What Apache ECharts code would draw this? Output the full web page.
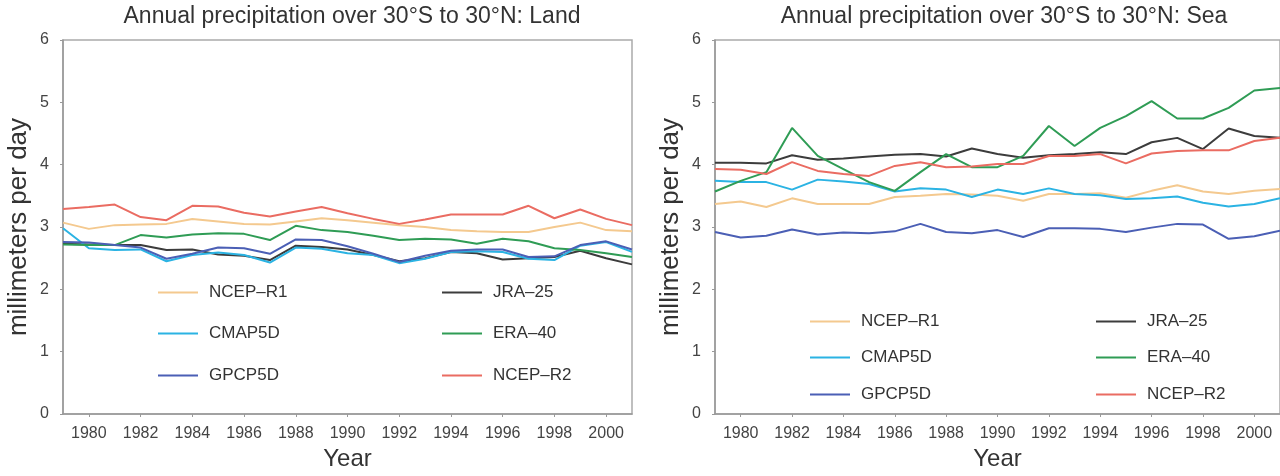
<!DOCTYPE html>
<html>
<head>
<meta charset="utf-8">
<title>Annual precipitation over 30°S to 30°N</title>
<script src="https://cdn.jsdelivr.net/npm/echarts@6/dist/echarts.min.js"></script>
<style>
  html, body { margin: 0; padding: 0; background: #fff; }
  #chart { width: 1280px; height: 476px; }
</style>
</head>
<body>
<div id="chart"></div>
<script>
// years on the x axis
const years = ['1979', '1980', '1981', '1982', '1983', '1984', '1985', '1986', '1987', '1988', '1989', '1990',
  '1991', '1992', '1993', '1994', '1995', '1996', '1997', '1998', '1999', '2000', '2001']
const yTicks = [0, 1, 2, 3, 4, 5, 6]

// Land, mm/day
const landNcepR1 = [3.07, 2.97, 3.03, 3.04, 3.05, 3.13, 3.09, 3.05, 3.04, 3.09, 3.14, 3.11, 3.07, 3.03, 3.0, 2.95, 2.93, 2.92, 2.92, 3.0, 3.07, 2.95, 2.93]
const landJra25 = [2.73, 2.72, 2.71, 2.71, 2.63, 2.64, 2.56, 2.54, 2.47, 2.7, 2.68, 2.64, 2.55, 2.45, 2.5, 2.6, 2.58, 2.48, 2.5, 2.52, 2.62, 2.5, 2.4]
const landCmap5d = [2.98, 2.66, 2.63, 2.64, 2.45, 2.55, 2.59, 2.55, 2.43, 2.67, 2.65, 2.58, 2.55, 2.42, 2.49, 2.6, 2.61, 2.6, 2.49, 2.47, 2.7, 2.76, 2.6]
const landEra40 = [2.72, 2.71, 2.71, 2.87, 2.83, 2.88, 2.9, 2.89, 2.79, 3.02, 2.95, 2.92, 2.86, 2.79, 2.81, 2.8, 2.73, 2.81, 2.77, 2.66, 2.63, 2.58, 2.52]
const landGpcp5d = [2.76, 2.75, 2.71, 2.67, 2.49, 2.57, 2.67, 2.66, 2.57, 2.8, 2.79, 2.69, 2.57, 2.44, 2.54, 2.62, 2.64, 2.64, 2.52, 2.53, 2.71, 2.77, 2.64]
const landNcepR2 = [3.29, 3.32, 3.36, 3.16, 3.11, 3.34, 3.33, 3.23, 3.17, 3.25, 3.32, 3.22, 3.13, 3.05, 3.12, 3.2, 3.2, 3.2, 3.34, 3.14, 3.28, 3.13, 3.03]

// Sea, mm/day
const seaNcepR1 = [3.37, 3.41, 3.32, 3.46, 3.37, 3.37, 3.37, 3.48, 3.5, 3.53, 3.52, 3.5, 3.42, 3.53, 3.53, 3.54, 3.47, 3.58, 3.67, 3.57, 3.53, 3.58, 3.61]
const seaJra25 = [4.03, 4.03, 4.02, 4.15, 4.08, 4.1, 4.13, 4.16, 4.17, 4.13, 4.26, 4.17, 4.11, 4.15, 4.17, 4.2, 4.17, 4.36, 4.43, 4.25, 4.58, 4.46, 4.43]
const seaCmap5d = [3.74, 3.72, 3.72, 3.6, 3.76, 3.73, 3.69, 3.57, 3.62, 3.6, 3.48, 3.6, 3.53, 3.62, 3.53, 3.51, 3.45, 3.46, 3.49, 3.39, 3.33, 3.37, 3.46]
const seaEra40 = [3.57, 3.74, 3.88, 4.59, 4.14, 3.93, 3.72, 3.58, 3.88, 4.17, 3.96, 3.96, 4.14, 4.62, 4.3, 4.59, 4.78, 5.02, 4.74, 4.74, 4.91, 5.19, 5.23]
const seaGpcp5d = [2.92, 2.83, 2.86, 2.96, 2.88, 2.91, 2.9, 2.93, 3.05, 2.92, 2.9, 2.95, 2.84, 2.98, 2.98, 2.97, 2.92, 2.99, 3.05, 3.04, 2.81, 2.85, 2.94]
const seaNcepR2 = [3.93, 3.92, 3.85, 4.04, 3.9, 3.85, 3.82, 3.98, 4.04, 3.96, 3.97, 4.01, 4.01, 4.14, 4.14, 4.17, 4.02, 4.18, 4.22, 4.23, 4.23, 4.38, 4.43]

const names = ['NCEP–R1', 'JRA–25', 'CMAP5D', 'ERA–40', 'GPCP5D', 'NCEP–R2']
const colors = ['#f4c98f', '#3c3c3c', '#2bb3e3', '#2f9c55', '#4b5fb5', '#ea6c62']
const landData = [landNcepR1, landJra25, landCmap5d, landEra40, landGpcp5d, landNcepR2]
const seaData = [seaNcepR1, seaJra25, seaCmap5d, seaEra40, seaGpcp5d, seaNcepR2]

const font = 'Liberation Sans, Arial, sans-serif'
const evenYear = (idx, val) => Number(val) % 2 === 0

function makeX (gridIndex) {
  return {
    type: 'category',
    gridIndex,
    data: years,
    boundaryGap: false,
    name: 'Year',
    nameLocation: 'middle',
    nameGap: 33,
    nameTextStyle: { fontSize: 24, color: '#333', fontFamily: font },
    axisLine: { lineStyle: { color: '#999', width: 1.5 } },
    axisTick: { interval: evenYear, length: 3, lineStyle: { color: '#999' } },
    axisLabel: { interval: evenYear, fontSize: 16, color: '#444', fontFamily: font, margin: 12 },
    splitLine: { show: false }
  }
}

function makeY (gridIndex) {
  return {
    type: 'value',
    gridIndex,
    min: yTicks[0],
    max: yTicks[yTicks.length - 1],
    interval: 1,
    name: 'millimeters per day',
    nameLocation: 'middle',
    nameGap: 31,
    nameTextStyle: { fontSize: 26, color: '#333', fontFamily: font },
    axisLine: { show: true, lineStyle: { color: '#999', width: 1.5 } },
    axisTick: { show: true, length: 3, lineStyle: { color: '#999' } },
    axisLabel: { fontSize: 16, color: '#444', fontFamily: font, margin: 14 },
    splitLine: { show: false }
  }
}

// one legend block per entry, so the 2x3 layout can be placed freely
function makeLegends (col1, col2, rows) {
  return names.map((name, i) => ({
    data: [name],
    orient: 'horizontal',
    left: i % 2 === 0 ? col1 : col2,
    top: rows[Math.floor(i / 2)] - 9,
    icon: 'rect',
    itemWidth: 40,
    itemHeight: 2,
    itemGap: 0,
    padding: 0,
    selectedMode: false,
    textStyle: { fontSize: 17, color: '#333', fontFamily: font, padding: [0, 0, 0, 6] }
  }))
}

const series = []
;[landData, seaData].forEach((set, g) => {
  set.forEach((values, i) => {
    series.push({
      name: names[i],
      type: 'line',
      xAxisIndex: g,
      yAxisIndex: g,
      data: values,
      showSymbol: false,
      color: colors[i],
      lineStyle: { width: 2, color: colors[i] },
      animation: false
    })
  })
})

const titleStyle = { fontSize: 23, fontWeight: 'normal', color: '#333', fontFamily: font }

const option = {
  animation: false,
  textStyle: { fontFamily: font },
  title: [
    { text: 'Annual precipitation over 30°S to 30°N: Land', left: 347, top: 0, textAlign: 'center', textStyle: titleStyle },
    { text: 'Annual precipitation over 30°S to 30°N: Sea', left: 999, top: 0, textAlign: 'center', textStyle: titleStyle }
  ],
  grid: [
    { left: 63, top: 40, width: 569, height: 377, show: true, borderColor: '#aaa', borderWidth: 1.5, backgroundColor: 'transparent' },
    { left: 715, top: 40, width: 569, height: 377, show: true, borderColor: '#aaa', borderWidth: 1.5, backgroundColor: 'transparent' }
  ],
  legend: makeLegends(158, 442, [293, 334, 376]).concat(makeLegends(810, 1096, [322, 358, 395])),
  xAxis: [makeX(0), makeX(1)],
  yAxis: [makeY(0), makeY(1)],
  series
}

const myChart = echarts.init(document.getElementById('chart'))
myChart.setOption(option)
</script>
</body>
</html>
